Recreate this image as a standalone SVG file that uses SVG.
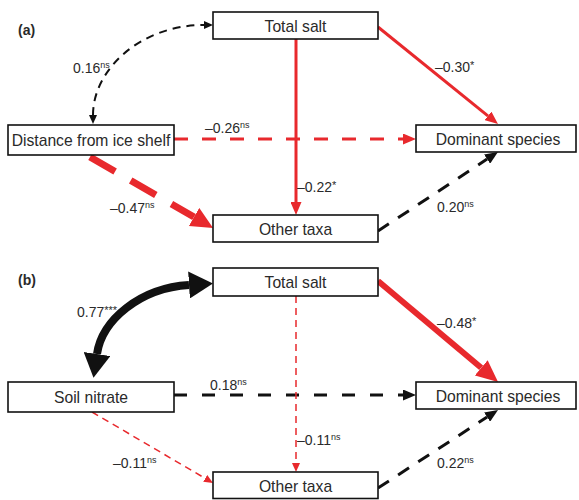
<svg xmlns="http://www.w3.org/2000/svg" width="579" height="500" viewBox="0 0 579 500">
<style>
.box{fill:#fff;stroke:#111;stroke-width:1.6}
.nl{font-family:"Liberation Sans",Arial,sans-serif;font-size:15.7px;fill:#2a2a2a;text-anchor:middle;dominant-baseline:central}
.el{font-family:"Liberation Sans",Arial,sans-serif;font-size:14px;fill:#2a2a2a}
.sup{font-size:9px}
.ast{font-size:11px}
.pl{font-family:"Liberation Sans",Arial,sans-serif;font-size:14px;font-weight:bold;fill:#2a2a2a}
.r{stroke:#e8292d;fill:none}
.k{stroke:#111;fill:none}
</style>
<defs>
<marker id="aR" markerUnits="userSpaceOnUse" viewBox="0 0 13 11" refX="0" refY="5.5" markerWidth="13" markerHeight="11" orient="auto"><path d="M0,0 L13,5.5 L0,11 z" fill="#e8292d"/></marker>
<marker id="aK" markerUnits="userSpaceOnUse" viewBox="0 0 13 11" refX="0" refY="5.5" markerWidth="13" markerHeight="11" orient="auto"><path d="M0,0 L13,5.5 L0,11 z" fill="#111"/></marker>
<marker id="aKs" markerUnits="userSpaceOnUse" viewBox="0 0 9 8" refX="0" refY="4" markerWidth="9" markerHeight="8" orient="auto-start-reverse"><path d="M0,0 L9,4 L0,8 z" fill="#111"/></marker>
<marker id="aRs" markerUnits="userSpaceOnUse" viewBox="0 0 9 8" refX="0" refY="4" markerWidth="9" markerHeight="8" orient="auto"><path d="M0,0 L9,4 L0,8 z" fill="#e8292d"/></marker>
<marker id="aRb" markerUnits="userSpaceOnUse" viewBox="0 0 22 21" refX="0" refY="10.5" markerWidth="22" markerHeight="21" orient="auto"><path d="M0,0 L22,10.5 L0,21 z" fill="#e8292d"/></marker>
<marker id="aRm" markerUnits="userSpaceOnUse" viewBox="0 0 22 20" refX="0" refY="10" markerWidth="22" markerHeight="20" orient="auto"><path d="M0,0 L22,10 L0,20 z" fill="#e8292d"/></marker>
<marker id="aKb" markerUnits="userSpaceOnUse" viewBox="0 0 24 27" refX="0" refY="13.5" markerWidth="24" markerHeight="27" orient="auto-start-reverse"><path d="M0,0 L24,13.5 L0,27 z" fill="#111"/></marker>
</defs>

<g id="connectors">
<!-- panel a -->
<path class="k" d="M93,115 C93,70 140,25 204,25" stroke-width="2" stroke-dasharray="8 6" marker-start="url(#aKs)" marker-end="url(#aKs)"/>
<line class="r" x1="296" y1="39" x2="296" y2="202" stroke-width="3" marker-end="url(#aR)"/>
<line class="r" x1="378" y1="27" x2="487.9" y2="115.8" stroke-width="3" marker-end="url(#aR)"/>
<line class="r" x1="174" y1="139" x2="403" y2="139" stroke-width="3" stroke-dasharray="14 14" marker-end="url(#aR)"/>
<line class="r" x1="90" y1="157" x2="194" y2="217" stroke-width="7" stroke-dasharray="29 18" marker-end="url(#aRb)"/>
<line class="k" x1="378" y1="231" x2="487.1" y2="159.1" stroke-width="3" stroke-dasharray="13 11" marker-end="url(#aK)"/>
<!-- panel b -->
<path class="k" d="M97,354 C102,320 140,288 189,285" stroke-width="8" marker-start="url(#aKb)" marker-end="url(#aKb)"/>
<line class="k" x1="174" y1="395" x2="403" y2="395" stroke-width="3" stroke-dasharray="13 15" marker-end="url(#aK)"/>
<line class="r" x1="92" y1="412" x2="205.2" y2="478.4" stroke-width="1.5" stroke-dasharray="7 5" marker-end="url(#aRs)"/>
<line class="r" x1="296" y1="296" x2="296" y2="463" stroke-width="1.5" stroke-dasharray="7 5" marker-end="url(#aRs)"/>
<line class="r" x1="378" y1="281" x2="481.2" y2="367.8" stroke-width="6" marker-end="url(#aRm)"/>
<line class="k" x1="378" y1="488" x2="487.1" y2="417.1" stroke-width="3" stroke-dasharray="13 11" marker-end="url(#aK)"/>
</g>

<g id="labels">
<text class="pl" x="18" y="35">(a)</text>
<text class="el" x="73" y="73">0.16<tspan class="sup" dy="-5">ns</tspan></text>
<text class="el" x="205" y="133">–0.26<tspan class="sup" dy="-5">ns</tspan></text>
<text class="el" x="110" y="213">–0.47<tspan class="sup" dy="-5">ns</tspan></text>
<text class="el" x="435" y="72">–0.30<tspan class="ast" dy="-3">*</tspan></text>
<text class="el" x="297" y="192">–0.22<tspan class="ast" dy="-3">*</tspan></text>
<text class="el" x="437" y="212">0.20<tspan class="sup" dy="-5">ns</tspan></text>
<text class="pl" x="18" y="285">(b)</text>
<text class="el" x="77" y="317">0.77<tspan class="ast" dy="-3">***</tspan></text>
<text class="el" x="210" y="390">0.18<tspan class="sup" dy="-5">ns</tspan></text>
<text class="el" x="113" y="468">–0.11<tspan class="sup" dy="-5">ns</tspan></text>
<text class="el" x="297" y="445">–0.11<tspan class="sup" dy="-5">ns</tspan></text>
<text class="el" x="437" y="328">–0.48<tspan class="ast" dy="-3">*</tspan></text>
<text class="el" x="437" y="468">0.22<tspan class="sup" dy="-5">ns</tspan></text>
</g>

<g id="a-total-salt"><rect class="box" x="213" y="12" width="165" height="27"/><text class="nl" x="295.5" y="26">Total salt</text></g>
<g id="a-distance"><rect class="box" x="8" y="125" width="166" height="30"/><text class="nl" x="91" y="140.5">Distance from ice shelf</text></g>
<g id="a-dominant"><rect class="box" x="416" y="125" width="160" height="27"/><text class="nl" x="498" y="139">Dominant species</text></g>
<g id="a-other-taxa"><rect class="box" x="213" y="215" width="165" height="27"/><text class="nl" x="295.5" y="229">Other taxa</text></g>

<g id="b-total-salt"><rect class="box" x="213" y="268" width="165" height="28"/><text class="nl" x="295.5" y="282.5">Total salt</text></g>
<g id="b-soil-nitrate"><rect class="box" x="8" y="382" width="166" height="30"/><text class="nl" x="91" y="397.5">Soil nitrate</text></g>
<g id="b-dominant"><rect class="box" x="416" y="382" width="160" height="27"/><text class="nl" x="498" y="396">Dominant species</text></g>
<g id="b-other-taxa"><rect class="box" x="213" y="472" width="165" height="26.5"/><text class="nl" x="295.5" y="486">Other taxa</text></g>
</svg>
